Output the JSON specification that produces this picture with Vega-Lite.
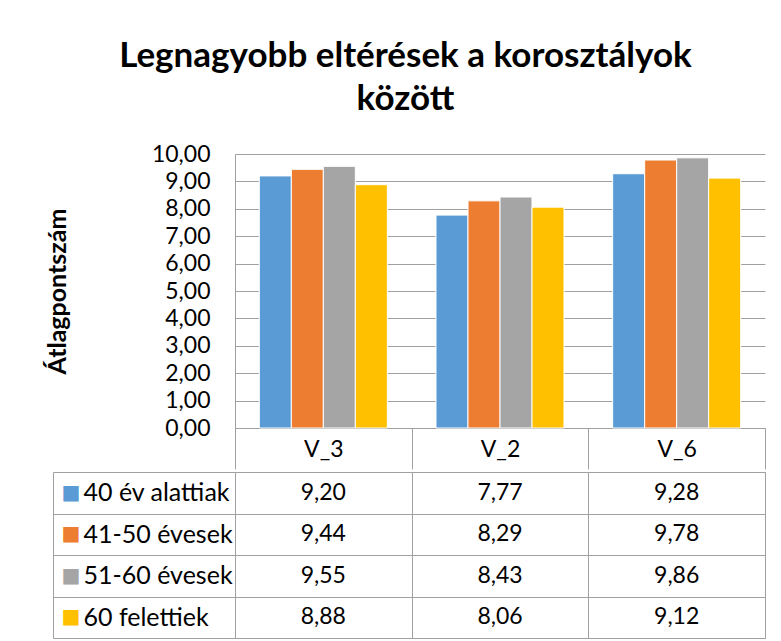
{
  "$schema": "https://vega.github.io/schema/vega-lite/v6.json",
  "autosize": {"type": "pad"},
  "padding": {"left": 45, "top": 39, "right": 5, "bottom": 0},
  "config": {
    "font": "Lato",
    "view": {"stroke": null},
    "locale": {"number": {"decimal": ",", "thousands": " ", "grouping": [3], "currency": ["", ""]}}
  },
  "title": {
    "text": ["Legnagyobb eltérések a korosztályok", "között"],
    "font": "Lato",
    "fontSize": 35,
    "fontWeight": "bold",
    "color": "black",
    "lineHeight": 43,
    "anchor": "middle",
    "offset": 26
  },
  "datasets": {
    "main": [
      {"cat": "V_3", "series": "40 év alattiak", "value": 9.20},
      {"cat": "V_3", "series": "41-50 évesek", "value": 9.44},
      {"cat": "V_3", "series": "51-60 évesek", "value": 9.55},
      {"cat": "V_3", "series": "60 felettiek", "value": 8.88},
      {"cat": "V_2", "series": "40 év alattiak", "value": 7.77},
      {"cat": "V_2", "series": "41-50 évesek", "value": 8.29},
      {"cat": "V_2", "series": "51-60 évesek", "value": 8.43},
      {"cat": "V_2", "series": "60 felettiek", "value": 8.06},
      {"cat": "V_6", "series": "40 év alattiak", "value": 9.28},
      {"cat": "V_6", "series": "41-50 évesek", "value": 9.78},
      {"cat": "V_6", "series": "51-60 évesek", "value": 9.86},
      {"cat": "V_6", "series": "60 felettiek", "value": 9.12}
    ]
  },
  "spacing": -11,
  "vconcat": [
    {
      "width": 530,
      "height": 274,
      "data": {"name": "main"},
      "mark": {"type": "bar", "stroke": "white", "strokeWidth": 1},
      "encoding": {
        "x": {
          "field": "cat", "type": "nominal", "sort": ["V_3", "V_2", "V_6"],
          "scale": {"type": "band", "paddingInner": 0, "paddingOuter": 0},
          "axis": {
            "title": null, "domain": true, "domainColor": "#a0a0a0",
            "ticks": true, "tickBand": "extent", "tickSize": 41, "tickColor": "#a0a0a0",
            "labelAngle": 0, "labelFontSize": 23, "labelColor": "black",
            "labelBaseline": "middle", "labelPadding": -20, "grid": false
          }
        },
        "xOffset": {
          "field": "series", "type": "nominal",
          "sort": ["40 év alattiak", "41-50 évesek", "51-60 évesek", "60 felettiek"],
          "scale": {"paddingInner": 0, "paddingOuter": 0.76}
        },
        "y": {
          "field": "value", "type": "quantitative",
          "scale": {"domain": [0, 10]},
          "axis": {
            "title": "Átlagpontszám", "titleFontSize": 25, "titleFontWeight": "bold",
            "titleColor": "black", "titlePadding": 81,
            "values": [0, 1, 2, 3, 4, 5, 6, 7, 8, 9, 10], "format": ".2f",
            "labelFontSize": 23, "labelColor": "black", "labelPadding": 25,
            "ticks": false, "domain": true, "domainColor": "#a0a0a0",
            "grid": true, "gridColor": "#a0a0a0", "gridWidth": 1
          }
        },
        "color": {
          "field": "series", "type": "nominal",
          "scale": {
            "domain": ["40 év alattiak", "41-50 évesek", "51-60 évesek", "60 felettiek"],
            "range": ["#5B9BD5", "#ED7D31", "#A5A5A5", "#FFC000"]
          },
          "legend": null
        }
      }
    },
    {
      "width": 530,
      "height": 166,
      "data": {"name": "main"},
      "view": {"stroke": "#a0a0a0"},
      "resolve": {"axis": {"y": "independent"}},
      "layer": [
        {
          "mark": {"type": "text", "fontSize": 23, "color": "black", "font": "Lato"},
          "encoding": {
            "x": {
              "field": "cat", "type": "nominal", "sort": ["V_3", "V_2", "V_6"],
              "scale": {"type": "band", "paddingInner": 0, "paddingOuter": 0},
              "axis": {
                "title": null, "labels": false, "ticks": false, "domain": false,
                "grid": true, "tickBand": "extent", "gridColor": "#a0a0a0"
              }
            },
            "y": {
              "field": "series", "type": "nominal",
              "sort": ["40 év alattiak", "41-50 évesek", "51-60 évesek", "60 felettiek"],
              "scale": {"type": "band", "paddingInner": 0, "paddingOuter": 0},
              "axis": {
                "orient": "right", "title": null, "labels": false, "ticks": false,
                "domain": false, "grid": true, "tickBand": "extent", "gridColor": "#a0a0a0"
              }
            },
            "text": {"field": "value", "type": "quantitative", "format": ".2f"}
          }
        },
        {
          "mark": {"type": "text", "text": ""},
          "encoding": {
            "y": {
              "field": "series", "type": "nominal",
              "sort": ["40 év alattiak", "41-50 évesek", "51-60 évesek", "60 felettiek"],
              "axis": {
                "orient": "left", "offset": 182, "title": null,
                "domain": true, "domainColor": "#a0a0a0",
                "ticks": true, "tickBand": "extent", "tickSize": -182, "tickColor": "#a0a0a0",
                "labelAlign": "left", "labelPadding": 152, "labelFontSize": 25,
                "labelColor": "black", "labelFont": "Lato", "grid": false
              }
            }
          }
        },
        {
          "mark": {"type": "text", "text": ""},
          "encoding": {
            "y": {
              "field": "series", "type": "nominal",
              "sort": ["40 év alattiak", "41-50 évesek", "51-60 évesek", "60 felettiek"],
              "axis": {
                "orient": "left", "offset": 182, "title": null,
                "domain": false, "ticks": false, "tickSize": 0, "grid": false,
                "labelExpr": "'■'", "labelFont": "DejaVu Sans", "labelFontSize": 20,
                "labelAlign": "left", "labelPadding": -8,
                "labelColor": {
                  "condition": [
                    {"test": "datum.value === '40 év alattiak'", "value": "#5B9BD5"},
                    {"test": "datum.value === '41-50 évesek'", "value": "#ED7D31"},
                    {"test": "datum.value === '51-60 évesek'", "value": "#A5A5A5"}
                  ],
                  "value": "#FFC000"
                }
              }
            }
          }
        }
      ]
    }
  ]
}
